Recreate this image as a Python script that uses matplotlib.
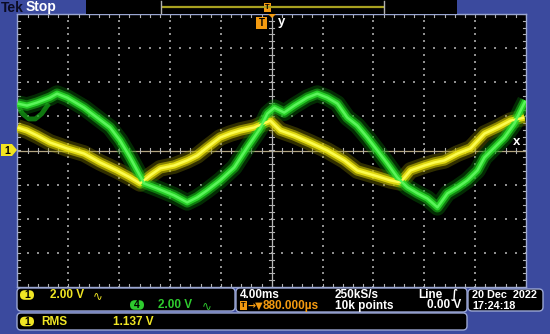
import matplotlib
matplotlib.use('Agg')
import matplotlib.pyplot as plt
from matplotlib.patches import FancyBboxPatch, Rectangle, Polygon
import numpy as np

plt.rcParams['font.family'] = ['Liberation Sans', 'DejaVu Sans']

# ---------------- data (time in ms from left edge of screen, volts) ----------------
ch1_t = [0.0, 0.75, 1.54, 2.56, 3.90, 5.24, 6.50, 7.83, 8.86, 9.65, 10.43, 11.22,
         12.32, 13.35, 14.13, 14.92, 15.94, 16.73, 17.52, 18.62, 19.88, 20.67, 21.77,
         23.03, 24.37, 25.71, 26.73, 28.07, 29.33, 30.12, 30.91, 32.01, 32.80, 33.58,
         34.61, 35.63, 36.73, 37.76, 38.78, 39.88]
ch1_v = [1.35, 1.17, 0.88, 0.47, 0.12, -0.18, -0.70, -1.17, -1.58, -1.93, -1.46, -1.05,
         -0.88, -0.58, -0.29, 0.18, 0.76, 0.99, 1.17, 1.35, 1.75, 1.17, 0.88,
         0.47, 0.00, -0.58, -1.17, -1.46, -1.75, -1.87, -1.17, -0.88, -0.70, -0.58,
         -0.18, 0.12, 0.99, 1.35, 1.75, 1.93]

ch4_t = [0.0, 0.75, 1.54, 2.56, 3.11, 3.90, 5.24, 6.26, 7.28, 8.07, 8.86, 9.41, 9.96,
         10.98, 12.32, 13.35, 14.13, 14.92, 15.94, 17.05, 18.07, 19.09, 19.65, 20.20,
         20.98, 21.77, 22.80, 23.58, 24.37, 25.16, 25.94, 26.73, 27.52, 28.31, 29.09,
         29.88, 30.67, 31.46, 32.24, 33.03, 33.82, 34.61, 35.39, 36.18, 36.73, 37.52,
         38.30, 39.09, 39.57, 39.96]
ch4_v = [2.75, 2.63, 2.81, 3.10, 3.33, 3.10, 2.51, 1.93, 1.35, 0.58, -0.41, -1.17, -1.93,
         -2.22, -2.63, -3.04, -2.75, -2.34, -1.75, -0.99, 0.18, 1.29, 2.16, 2.51,
         2.22, 2.63, 3.10, 3.33, 3.10, 2.75, 1.93, 1.46, 0.76, 0.00, -0.76,
         -1.58, -2.16, -2.51, -2.81, -3.33, -2.51, -2.16, -1.75, -1.17, -0.41, 0.18,
         0.76, 1.58, 2.34, 2.92]

ch4_loop_t = [0.0, 0.4, 0.9, 1.4, 1.9, 2.35]
ch4_loop_v = [2.63, 2.15, 1.85, 1.85, 2.15, 2.63]

ch1_scale = "2.00 V"
ch4_scale = "2.00 V"
timebase = "4.00ms"
sample_rate = "250kS/s"
trig_pos = "880.000µs"
rec_len = "10k points"
trig_src = "Line"
trig_level = "0.00 V"
date_str = "20 Dec  2022"
time_str = "17:24:18"
meas_label = "RMS"
meas_value = "1.137 V"

# ---------------- layout ----------------
W, H = 550, 334
BLUE = '#3b4a9e'
BORDER = '#9aa6d2'
fig = plt.figure(figsize=(5.5, 3.34), dpi=100)
fig.patch.set_facecolor(BLUE)
bg = fig.add_axes([0, 0, 1, 1])
bg.set_xlim(0, W)
bg.set_ylim(H, 0)
bg.axis('off')

# top bar
bg.add_patch(Rectangle((86, 0), 371, 14, facecolor='black', edgecolor='none'))
bg.text(1, 7.5, "Tek", color='#0c0c24', fontsize=10, fontweight='bold', va='center', ha='left')
bg.text(26, 7.5, "Stop", color='white', fontsize=10, fontweight='bold', va='center', ha='left')
bg.plot([161, 384], [7, 7], color='#a8a020', lw=1.6, solid_capstyle='butt')
bg.plot([161, 161], [1, 13], color='#b0b0b0', lw=1)
bg.plot([384, 384], [1, 13], color='#b0b0b0', lw=1)
bg.add_patch(Rectangle((264, 3), 7, 9, facecolor='#f39a10', edgecolor='none'))
bg.text(267.5, 7.7, "T", color='black', fontsize=5.5, fontweight='bold', ha='center', va='center')
bg.add_patch(Polygon([(268, 14), (276, 14), (272, 18)], closed=True, facecolor='#f39a10', edgecolor='none'))

# graticule axes
gx0, gx1, gy0, gy1 = 17.5, 526, 14, 287
ax = fig.add_axes([gx0 / W, (H - gy1) / H, (gx1 - gx0) / W, (gy1 - gy0) / H])
ax.set_facecolor('black')
ax.set_xlim(0, 40)
ax.set_ylim(-8, 8)
ax.set_xticks([])
ax.set_yticks([])
for s in ax.spines.values():
    s.set_color(BORDER)
    s.set_linewidth(1)

# dotted grid
dots_x, dots_y = [], []
for i in range(1, 10):
    if i == 5:
        continue
    for yy in np.arange(-8, 8.01, 0.4):
        dots_x.append(4 * i); dots_y.append(yy)
for j in range(-3, 4):
    if j == 0:
        continue
    for xx in np.arange(0, 40.01, 0.8):
        dots_x.append(xx); dots_y.append(2 * j)
ax.scatter(dots_x, dots_y, s=1.0, c='#8e8e8e', marker='s', linewidths=0, zorder=1)

# center cross with ticks
ax.axhline(0, color='#b4a682', lw=0.9, zorder=1)
ax.axvline(20, color='#b8b8b8', lw=0.9, zorder=1)
for xx in np.arange(0, 40.01, 0.8):
    ax.plot([xx, xx], [-0.12, 0.12], color='#b0b0b0', lw=0.8, zorder=1)
    ax.plot([xx, xx], [-8, -7.85], color='#b0b0b0', lw=0.8, zorder=1)
    ax.plot([xx, xx], [7.85, 8], color='#b0b0b0', lw=0.8, zorder=1)
for yy in np.arange(-8, 8.01, 0.4):
    ax.plot([19.8, 20.2], [yy, yy], color='#b0b0b0', lw=0.8, zorder=1)
    ax.plot([0, 0.2], [yy, yy], color='#b0b0b0', lw=0.8, zorder=1)
    ax.plot([39.8, 40], [yy, yy], color='#b0b0b0', lw=0.8, zorder=1)

# traces: wide faint haze, mid band, bright core
kw = dict(solid_joinstyle='round', solid_capstyle='butt')
ax.plot(ch1_t, ch1_v, color='#8c8400', lw=12, alpha=0.35, zorder=2, **kw)
ax.plot(ch4_t, ch4_v, color='#0a700a', lw=12, alpha=0.4, zorder=2, **kw)
ax.plot(ch4_loop_t, ch4_loop_v, color='#15a015', lw=3.5, alpha=0.75, zorder=2)
ax.plot(ch1_t, ch1_v, color='#c8c000', lw=7.5, alpha=0.6, zorder=3, **kw)
ax.plot(ch4_t, ch4_v, color='#18b018', lw=7.5, alpha=0.6, zorder=3, **kw)
ax.plot(ch1_t, ch1_v, color='#e8e010', lw=4.5, alpha=0.9, zorder=4, **kw)
ax.plot(ch4_t, ch4_v, color='#2ad82a', lw=4.5, alpha=0.9, zorder=4, **kw)
ax.plot(ch1_t, ch1_v, color='#fcfc50', lw=1.8, zorder=5, **kw)
ax.plot(ch4_t, ch4_v, color='#5af55a', lw=1.8, zorder=5, **kw)

# labels inside graticule
bg.add_patch(Rectangle((256, 17), 11, 12, facecolor='#f39a10', edgecolor='none', zorder=5))
bg.text(261.5, 23.3, "T", color='black', fontsize=7, fontweight='bold', ha='center', va='center', zorder=6)
bg.text(278, 22, "y", color='white', fontsize=9.5, fontweight='bold', ha='left', va='center', zorder=6)
bg.text(513, 142, "x", color='white', fontsize=9.5, fontweight='bold', ha='left', va='center', zorder=6)
bg.set_zorder(ax.get_zorder() + 1)
bg.patch.set_visible(False)

# channel 1 ground marker
bg.add_patch(Polygon([(1, 144), (12, 144), (17, 150), (12, 156), (1, 156)], closed=True,
                     facecolor='#f2e41e', edgecolor='none'))
bg.text(7, 150.5, "1", color='black', fontsize=7.5, fontweight='bold', ha='center', va='center')


def rbox(x, y, w, h, fc='black', ec=BORDER, r=4, lw=1):
    bg.add_patch(FancyBboxPatch((x, y), w, h, boxstyle=f'round,pad=0,rounding_size={r}',
                                facecolor=fc, edgecolor=ec, linewidth=lw))


def pill(xc, yc, label, fc):
    bg.add_patch(FancyBboxPatch((xc - 7, yc - 4.8), 14, 9.6, boxstyle='round,pad=0,rounding_size=4.8',
                                facecolor=fc, edgecolor='none'))
    bg.text(xc, yc + 0.5, label, color='black', fontsize=7.5, fontweight='bold', ha='center', va='center')


YEL = '#f0e624'
GRN = '#2ecc2e'
FS = 8.5

# bottom panel boxes
rbox(17, 288, 218, 23)
rbox(236, 288, 231, 24)
rbox(468, 289, 75, 22)
rbox(17, 313, 450, 17)

pill(27, 295, "1", YEL)
bg.text(50, 295.5, ch1_scale, color=YEL, fontsize=FS, fontweight='bold', ha='left', va='center')
bg.text(93, 295.5, "∿", color=YEL, fontsize=FS, ha='left', va='center', family=['DejaVu Sans'])
pill(137, 305, "4", GRN)
bg.text(158, 305.5, ch4_scale, color=GRN, fontsize=FS, fontweight='bold', ha='left', va='center')
bg.text(202, 305.5, "∿", color=GRN, fontsize=FS, ha='left', va='center', family=['DejaVu Sans'])

bg.text(240, 294.5, timebase, color='white', fontsize=FS, fontweight='bold', ha='left', va='center')
bg.text(335, 294.5, sample_rate, color='white', fontsize=FS, fontweight='bold', ha='left', va='center')
bg.text(418, 294.5, trig_src, color='white', fontsize=FS, fontweight='bold', ha='left', va='center')
bg.text(451, 294.5, "∫", color='white', fontsize=FS, fontweight='bold', ha='left', va='center',
        family=['DejaVu Sans'])
bg.add_patch(Rectangle((240, 300.5), 7, 9, facecolor='#f39a10', edgecolor='none'))
bg.text(243.5, 305.2, "T", color='black', fontsize=5.5, fontweight='bold', ha='center', va='center')
bg.text(247, 305.3, "→▼", color='#f39a10', fontsize=7, fontweight='bold', ha='left', va='center',
        family=['DejaVu Sans'])
bg.text(263, 305.5, trig_pos, color='#f39a10', fontsize=FS, fontweight='bold', ha='left', va='center')
bg.text(335, 305.5, rec_len, color='white', fontsize=FS, fontweight='bold', ha='left', va='center')
bg.text(461, 305.5, trig_level, color='white', fontsize=FS, fontweight='bold', ha='right', va='center')

bg.text(472, 295.5, date_str, color='white', fontsize=7.8, fontweight='bold', ha='left', va='center')
bg.text(472, 306, time_str, color='white', fontsize=7.8, fontweight='bold', ha='left', va='center')

pill(27, 321.5, "1", YEL)
bg.text(41, 322, meas_label, color=YEL, fontsize=FS, fontweight='bold', ha='left', va='center')
bg.text(113, 322, meas_value, color=YEL, fontsize=FS, fontweight='bold', ha='left', va='center')

fig.savefig('out.png', dpi=100, facecolor=fig.get_facecolor())
